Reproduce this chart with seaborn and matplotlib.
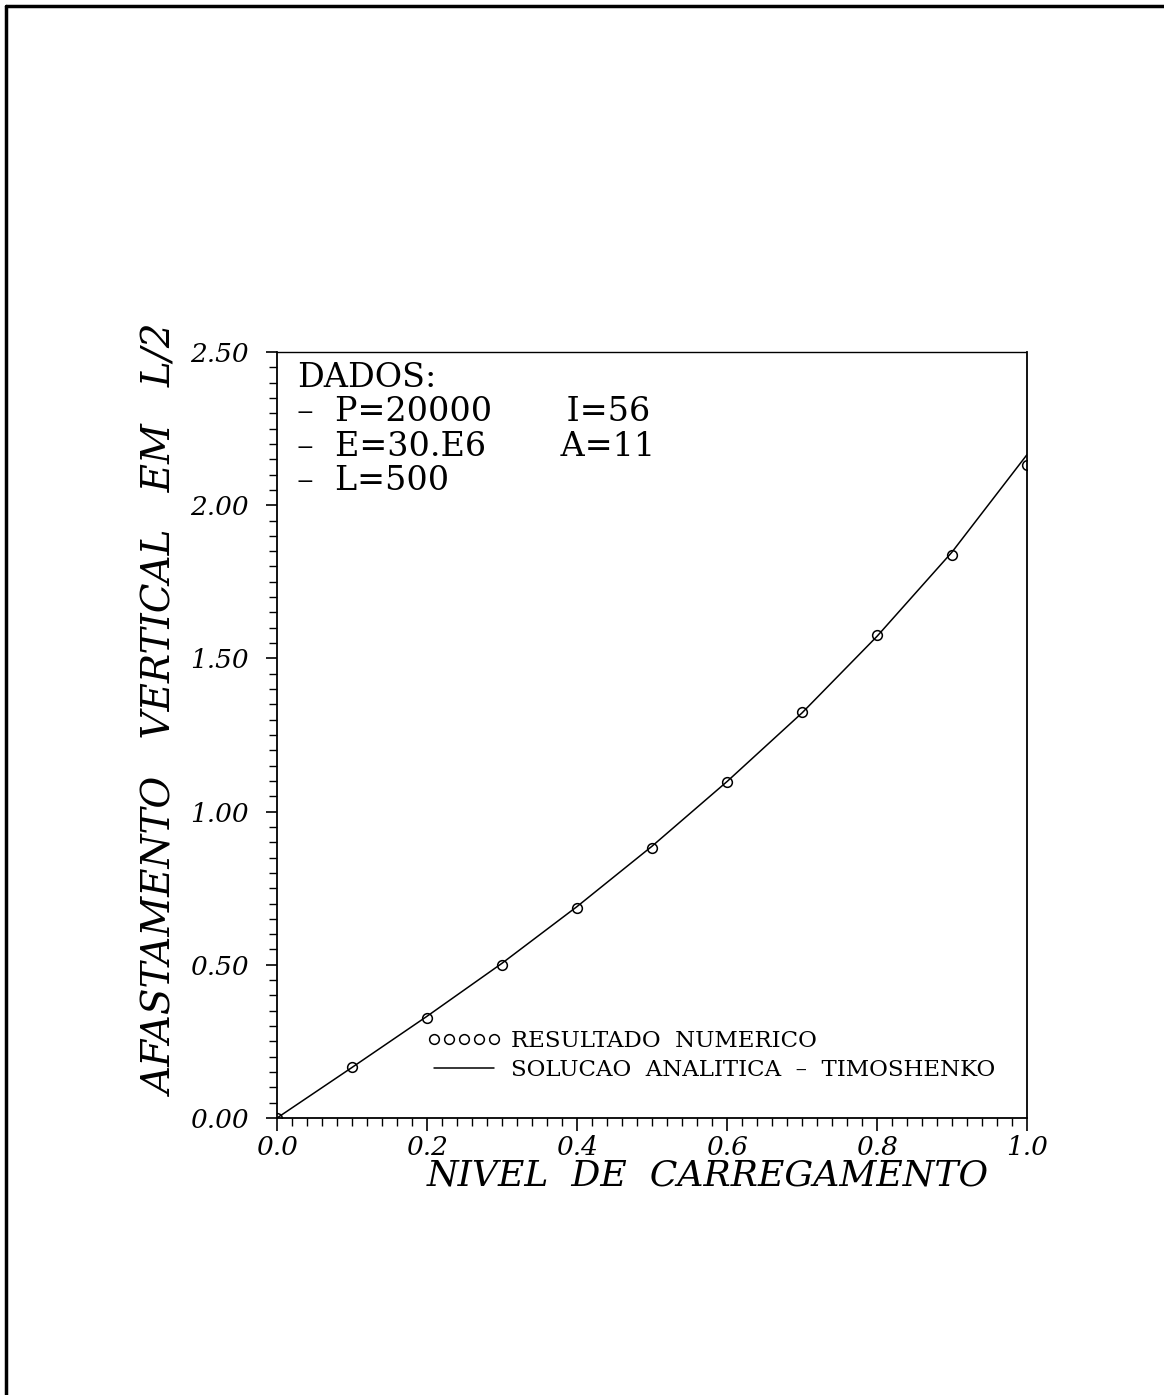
import numpy as np
import pandas as pd
import matplotlib
matplotlib.use("Agg")
import matplotlib.pyplot as plt
import seaborn as sns
from matplotlib.ticker import MultipleLocator
from matplotlib.lines import Line2D

# ---- data ----
nivel = [0.0, 0.1, 0.2, 0.3, 0.4, 0.5, 0.6, 0.7, 0.8, 0.9, 1.0]
resultado_numerico = [0.0, 0.166, 0.326, 0.500, 0.685, 0.880, 1.097, 1.325, 1.576, 1.837, 2.131]
solucao_analitica = [0.0, 0.165, 0.332, 0.505, 0.690, 0.887, 1.098, 1.322, 1.572, 1.847, 2.165]

x_ticks = [0.0, 0.2, 0.4, 0.6, 0.8, 1.0]
x_ticklabels = ["0.0", "0.2", "0.4", "0.6", "0.8", "1.0"]
y_ticks = [0.0, 0.5, 1.0, 1.5, 2.0, 2.5]
y_ticklabels = ["0.00", "0.50", "1.00", "1.50", "2.00", "2.50"]

sns.set_theme(style="white")
plt.rcParams['font.family'] = ['DejaVu Serif', 'Liberation Serif']

W, H = 1164, 1395
fig = plt.figure(figsize=(W / 100, H / 100), dpi=100)
L, R, B, T = 277, 1027, 1118, 352
ax = fig.add_axes([L / W, (H - B) / H, (R - L) / W, (B - T) / H])

df_num = pd.DataFrame({"x": nivel, "y": resultado_numerico})
df_an = pd.DataFrame({"x": nivel, "y": solucao_analitica})

sns.lineplot(data=df_an, x="x", y="y", ax=ax, color="black", linewidth=1.1,
             label="SOLUCAO  ANALITICA  –  TIMOSHENKO")
sns.lineplot(data=df_num, x="x", y="y", ax=ax, marker="o", linestyle="",
             markerfacecolor="none", markeredgecolor="black", markeredgewidth=1.1,
             markersize=7, color="black", label="RESULTADO  NUMERICO")

ax.set_xlim(0, 1.0)
ax.set_ylim(0, 2.5)
ax.set_xticks(x_ticks)
ax.set_xticklabels(x_ticklabels, fontstyle="italic", fontsize=19)
ax.set_yticks(y_ticks)
ax.set_yticklabels(y_ticklabels, fontstyle="italic", fontsize=19)
ax.xaxis.set_minor_locator(MultipleLocator(0.02))
ax.yaxis.set_minor_locator(MultipleLocator(0.05))
ax.tick_params(axis="x", which="major", direction="out", length=9, width=1.2,
               color="black", labelcolor="black", bottom=True, pad=3)
ax.tick_params(axis="y", which="major", direction="out", length=8, width=1.2,
               color="black", labelcolor="black", left=True, pad=12)
ax.tick_params(axis="both", which="minor", direction="out", length=6, width=1.0,
               color="black", bottom=True, left=True)
for s in ax.spines.values():
    s.set_color("black")
    s.set_linewidth(1.3)
    s.set_visible(True)
ax.spines["top"].set_linestyle((0, (1, 1)))
ax.spines["top"].set_linewidth(1.0)

ax.set_xlabel("NIVEL  DE  CARREGAMENTO", fontstyle="italic", fontsize=26,
              color="black")
ax.xaxis.set_label_coords((708 - L) / (R - L), (B - 1175) / (B - T))
ax.xaxis.label.set_va("center")
ax.set_ylabel("AFASTAMENTO   VERTICAL   EM   L/2", fontstyle="italic", fontsize=28,
              color="black")
ax.yaxis.set_label_coords((163 - L) / (R - L), (B - 710) / (B - T))
ax.yaxis.label.set_va("center")

# legend: markers first
handles, labels = ax.get_legend_handles_labels()
leg = ax.legend(handles[::-1], labels[::-1], loc="lower left",
                bbox_to_anchor=((418 - L) / (R - L), (B - 1090) / (B - T)),
                frameon=False, numpoints=5, handlelength=3.2, handletextpad=0.45,
                labelspacing=0.3, fontsize=16.5, borderaxespad=0,
                labelcolor="black")

# data text block (single multi-line text)
def fx(px):
    return (px - L) / (R - L)

def fy(py):
    return (B - py) / (B - T)

dados = "DADOS:\n–  P=20000       I=56\n–  E=30.E6       A=11\n–  L=500"
ax.text(fx(297), fy(362), dados, transform=ax.transAxes, fontsize=24,
        va="top", ha="left", color="black", linespacing=1.09)

# scanned page border (left and top)
fig.add_artist(Line2D([6 / W, 6 / W], [0, 1 - 6 / H], transform=fig.transFigure,
                      color="black", linewidth=2.5))
fig.add_artist(Line2D([6 / W, 1], [1 - 6 / H, 1 - 6 / H], transform=fig.transFigure,
                      color="black", linewidth=2.5))

fig.savefig("out.png", dpi=100, facecolor="white")
